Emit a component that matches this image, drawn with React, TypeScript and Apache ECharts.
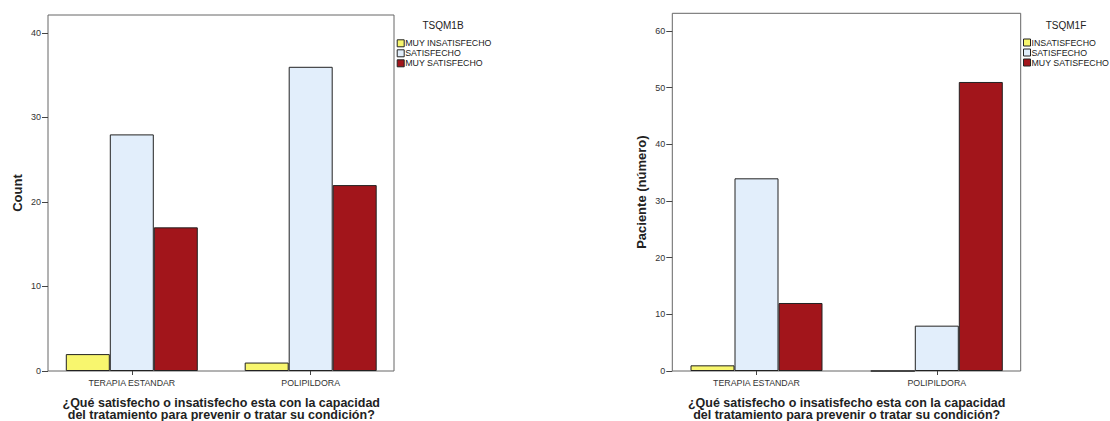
import React, { useEffect, useRef } from "react";
import * as echarts from "echarts";

const categories = ["TERAPIA ESTANDAR", "POLIPILDORA"];

const leftLegendTitle = "TSQM1B";
const leftNames = ["MUY INSATISFECHO", "SATISFECHO", "MUY SATISFECHO"];
const leftMuyInsatisfecho = [2, 1];
const leftSatisfecho = [28, 36];
const leftMuySatisfecho = [17, 22];
const leftYTicks = [0, 10, 20, 30, 40];
const leftYName = "Count";

const rightLegendTitle = "TSQM1F";
const rightNames = ["INSATISFECHO", "SATISFECHO", "MUY SATISFECHO"];
const rightInsatisfecho = [1, 0];
const rightSatisfecho = [34, 8];
const rightMuySatisfecho = [12, 51];
const rightYTicks = [0, 10, 20, 30, 40, 50, 60];
const rightYName = "Paciente (número)";

const xName =
  "¿Qué satisfecho o insatisfecho esta con la capacidad\ndel tratamiento para prevenir o tratar su condición?";

const colors = ["#F8F66E", "#E2EEFB", "#A2151B"];
const FONT = "'Liberation Sans', Arial, sans-serif";
const TXT = "#222";

export default function App() {
  const ref = useRef<HTMLDivElement>(null);
  useEffect(() => {
    if (!ref.current) return;
    const chart = echarts.init(ref.current, null, { renderer: "svg" });

    const L = { frameLeft: 48, frameRight: 394, top: 15, bottom: 371, max: 42.13, catLeft: 42.35, catWidth: 357.8 };
    const R = { frameLeft: 672.3, frameRight: 1020.7, top: 13.3, bottom: 371, max: 63.12, catLeft: 666.35, catWidth: 360.6 };

    const frameGrid = (g: any) => ({
      left: g.frameLeft,
      top: g.top,
      width: g.frameRight - g.frameLeft,
      height: g.bottom - g.top,
      show: true,
      borderColor: "#666",
      borderWidth: 1,
      backgroundColor: "transparent",
      containLabel: false,
      outerBoundsMode: "none",
    });
    const barGrid = (g: any) => ({
      left: g.catLeft,
      top: g.top,
      width: g.catWidth,
      height: g.bottom - g.top,
      containLabel: false,
      outerBoundsMode: "none",
    });

    const visibleY = (gridIndex: number, g: any, ticks: number[], name: string, gap: number) => ({
      type: "value",
      gridIndex,
      min: 0,
      max: g.max,
      name,
      nameLocation: "middle",
      nameGap: gap,
      nameRotate: 90,
      nameTextStyle: { fontFamily: FONT, fontSize: 13, fontWeight: "bold", color: TXT },
      axisLine: { show: false },
      splitLine: { show: false },
      axisTick: { show: true, length: 6, customValues: ticks, lineStyle: { color: "#444" } },
      axisLabel: { customValues: ticks, margin: 7, fontFamily: FONT, fontSize: 9, color: "#333" },
    });
    const hiddenY = (gridIndex: number, g: any) => ({
      type: "value",
      gridIndex,
      min: 0,
      max: g.max,
      show: false,
    });
    const catX = (gridIndex: number) => ({
      type: "category",
      gridIndex,
      data: categories,
      name: xName,
      nameLocation: "middle",
      nameGap: 26,
      nameTextStyle: { fontFamily: FONT, fontSize: 12.5, fontWeight: "bold", color: TXT, lineHeight: 12 },
      axisLine: { show: false },
      axisTick: { show: true, length: 4, alignWithLabel: true, lineStyle: { color: "#444" } },
      axisLabel: { margin: 7, fontFamily: FONT, fontSize: 8.8, color: "#333" },
    });
    const hiddenX = (gridIndex: number) => ({ type: "value", gridIndex, show: false });

    const bar = (name: string, data: number[], idx: number, axisIdx: number) => ({
      type: "bar",
      name,
      data,
      xAxisIndex: axisIdx,
      yAxisIndex: axisIdx,
      barWidth: 44,
      barGap: "0%",
      itemStyle: { color: colors[idx], borderColor: "#222", borderWidth: 1 },
      emphasis: { disabled: true },
    });

    const legend = (names: string[], left: number, top: number) => ({
      data: names,
      orient: "vertical",
      left,
      top,
      padding: 0,
      itemGap: 0,
      itemWidth: 7,
      itemHeight: 7,
      icon: "rect",
      selectedMode: false,
      itemStyle: { borderColor: "#222", borderWidth: 1 },
      textStyle: { fontFamily: FONT, fontSize: 8.8, color: TXT, lineHeight: 10, padding: [0, 0, 0, -4] },
    });

    chart.setOption({
      animation: false,
      backgroundColor: "#fff",
      title: [
        { text: leftLegendTitle, left: 443, top: 20, textAlign: "center", padding: 0, textStyle: { fontFamily: FONT, fontSize: 10, fontWeight: "normal", color: TXT } },
        { text: rightLegendTitle, left: 1066, top: 20, textAlign: "center", padding: 0, textStyle: { fontFamily: FONT, fontSize: 10, fontWeight: "normal", color: TXT } },
      ],
      legend: [legend(leftNames, 396.7, 38.3), legend(rightNames, 1023, 37.5)],
      grid: [frameGrid(L), barGrid(L), frameGrid(R), barGrid(R)],
      xAxis: [hiddenX(0), catX(1), hiddenX(2), catX(3)],
      yAxis: [
        visibleY(0, L, leftYTicks, leftYName, 24),
        hiddenY(1, L),
        visibleY(2, R, rightYTicks, rightYName, 24),
        hiddenY(3, R),
      ],
      series: [
        bar(leftNames[0], leftMuyInsatisfecho, 0, 1),
        bar(leftNames[1], leftSatisfecho, 1, 1),
        bar(leftNames[2], leftMuySatisfecho, 2, 1),
        bar(rightNames[0], rightInsatisfecho, 0, 3),
        bar(rightNames[1], rightSatisfecho, 1, 3),
        bar(rightNames[2], rightMuySatisfecho, 2, 3),
      ],
    });
    return () => chart.dispose();
  }, []);
  return (
    <div
      ref={ref}
      style={{ position: "fixed", left: 0, top: 0, width: 1110, height: 421, background: "#fff" }}
    />
  );
}
